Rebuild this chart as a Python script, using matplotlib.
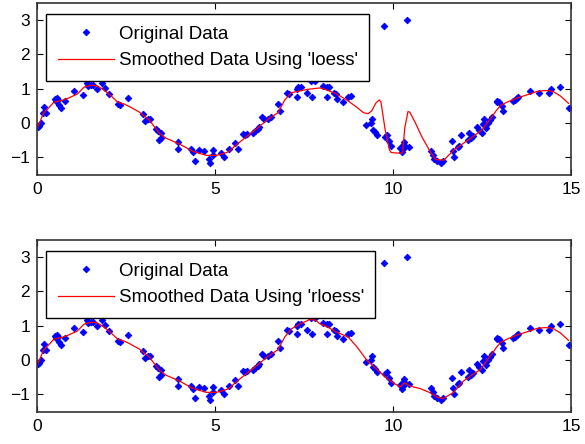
import matplotlib
matplotlib.use("Agg")
import matplotlib.pyplot as plt
import numpy as np

# ---- data ----
x_data = [0.03, 0.06, 0.12, 0.20, 0.18, 0.25, 0.50, 0.57, 0.53, 0.59, 0.63, 0.67, 0.80,
          1.04, 1.30, 1.40, 1.43, 1.51, 1.58, 1.68, 1.83, 1.90, 2.01, 2.28, 2.33, 2.56,
          2.97, 3.03, 3.12, 3.17, 3.34, 3.40, 3.47, 3.44, 3.47, 3.96, 3.96, 4.32, 4.37,
          4.43, 4.56, 4.69, 4.84, 4.86, 4.93, 4.95, 5.16, 5.25, 5.40, 5.55, 5.65, 5.78,
          5.83, 5.89, 6.06, 6.13, 6.21, 6.24, 6.32, 6.38, 6.49, 6.56, 6.77, 6.83, 7.03,
          7.09, 7.29, 7.33, 7.41, 7.31, 7.59, 7.70, 7.81, 7.73, 8.04, 8.14, 8.19, 8.15,
          8.34, 8.40, 8.42, 8.59, 8.74, 8.81, 9.24, 9.41, 9.37, 9.45, 9.50, 9.54, 9.78,
          9.88, 9.84, 9.94, 10.20, 10.25, 10.29, 10.31, 10.35, 10.44, 10.27, 9.75, 10.40,
          11.08, 11.11, 11.15, 11.23, 11.34, 11.40, 11.66, 11.69, 11.71, 11.83, 11.86,
          11.92, 12.11, 12.14, 12.18, 12.26, 12.37, 12.41, 12.50, 12.52, 12.56, 12.61,
          12.67, 12.72, 12.78, 12.91, 12.93, 12.97, 13.06, 13.08, 13.36, 13.44, 13.49,
          13.51, 13.85, 14.11, 14.39, 14.43, 14.69, 14.93]
y_data = [-0.12, -0.09, 0.00, 0.47, 0.30, 0.30, 0.69, 0.73, 0.65, 0.67, 0.53, 0.44, 0.65,
          0.94, 0.80, 1.15, 1.08, 1.11, 1.10, 1.00, 1.17, 1.02, 0.84, 0.55, 0.51, 0.73,
          0.26, 0.07, 0.11, 0.13, -0.17, -0.24, -0.30, -0.49, -0.44, -0.55, -0.77, -0.75, -0.84,
          -1.11, -0.78, -0.82, -1.06, -1.17, -0.78, -0.94, -0.86, -1.00, -0.75, -0.59, -0.77, -0.32,
          -0.36, -0.32, -0.28, -0.22, -0.17, -0.11, 0.18, 0.11, 0.13, 0.18, 0.55, 0.34, 0.88,
          0.84, 1.00, 1.06, 1.06, 0.75, 0.88, 1.23, 1.23, 0.77, 1.08, 1.06, 1.04, 0.77,
          0.88, 0.84, 0.69, 0.61, 0.77, 0.78, -0.07, 0.13, -0.01, -0.20, -0.26, -0.34, -0.42,
          -0.53, -0.36, -0.67, -0.73, -0.84, -0.65, -0.55, -0.67, -0.69, -0.75, 2.83, 3.00,
          -0.82, -0.94, -1.06, -1.10, -1.15, -1.11, -0.53, -0.82, -1.00, -0.71, -0.67,
          -0.34, -0.49, -0.28, -0.44, -0.38, -0.11, -0.20, -0.28, -0.03, 0.11, -0.15,
          -0.01, 0.09, 0.18, 0.61, 0.63, 0.61, 0.49, 0.36, 0.63, 0.67, 0.73,
          0.77, 0.94, 0.88, 0.86, 1.00, 1.04, 0.44]

loess_x = [0.03, 0.18, 0.29, 0.48, 0.67, 0.85, 1.13, 1.32, 1.51, 1.69, 1.88, 2.07, 2.26,
           2.45, 2.61, 2.87, 3.15, 3.44, 3.62, 4.00, 4.37, 4.75, 5.03, 5.20, 5.37, 5.65,
           5.93, 6.21, 6.49, 6.77, 6.96, 7.14, 7.42, 7.61, 7.78, 7.95, 8.14, 8.42, 8.70,
           8.98, 9.17, 9.30, 9.40, 9.52, 9.61, 9.66, 9.78, 9.90, 9.95, 10.22, 10.27, 10.33,
           10.42, 10.47, 10.63, 10.81, 11.00, 11.19, 11.43, 11.56, 11.75, 12.12, 12.50,
           12.78, 12.90, 13.02, 13.21, 13.49, 13.77, 14.05, 14.24, 14.39, 14.52, 14.71, 14.93]
loess_y = [-0.10, 0.28, 0.40, 0.61, 0.65, 0.71, 0.84, 1.04, 1.10, 1.08, 0.96, 0.80, 0.61,
           0.55, 0.47, 0.32, 0.09, -0.30, -0.44, -0.61, -0.82, -0.94, -0.94, -0.90, -0.84, -0.59,
           -0.36, -0.13, 0.11, 0.30, 0.67, 0.88, 0.94, 0.98, 1.00, 1.02, 0.96, 0.84, 0.67,
           0.46, 0.30, 0.27, 0.35, 0.58, 0.67, 0.62, -0.20, -0.78, -0.86, -0.88, -0.86, -0.15,
           0.33, 0.32, 0.00, -0.40, -0.75, -1.06, -1.08, -0.94, -0.75, -0.49, -0.20,
           0.18, 0.36, 0.51, 0.61, 0.73, 0.82, 0.92, 0.94, 0.94, 0.90, 0.78, 0.57]

rloess_x = [0.03, 0.18, 0.29, 0.48, 0.67, 0.85, 1.13, 1.32, 1.51, 1.69, 1.88, 2.07, 2.26,
            2.45, 2.61, 2.87, 3.15, 3.44, 3.62, 4.00, 4.37, 4.75, 5.03, 5.20, 5.37, 5.65,
            5.93, 6.21, 6.49, 6.77, 6.96, 7.14, 7.39, 7.67, 7.82, 7.95, 8.14, 8.42, 8.75,
            8.98, 9.26, 9.54, 9.82, 10.00, 10.20, 10.33, 10.48, 10.76, 11.04, 11.23, 11.41,
            11.69, 11.97, 12.25, 12.44, 12.78, 12.90, 13.02, 13.21, 13.49, 13.77, 14.05,
            14.24, 14.39, 14.52, 14.71, 14.93]
rloess_y = [-0.10, 0.28, 0.40, 0.61, 0.65, 0.71, 0.84, 1.04, 1.10, 1.08, 0.96, 0.80, 0.61,
            0.55, 0.47, 0.32, 0.09, -0.30, -0.44, -0.61, -0.82, -0.94, -0.94, -0.90, -0.84, -0.59,
            -0.36, -0.13, 0.11, 0.30, 0.67, 0.90, 1.05, 1.18, 1.16, 1.05, 0.97, 0.81, 0.66,
            0.39, 0.00, -0.27, -0.52, -0.66, -0.78, -0.66, -0.76, -0.83, -0.95, -1.08, -1.12,
            -0.95, -0.62, -0.41, -0.29, 0.18, 0.36, 0.51, 0.61, 0.73, 0.82, 0.92,
            0.94, 0.94, 0.90, 0.78, 0.57]

method_labels = ["Smoothed Data Using 'loess'", "Smoothed Data Using 'rloess'"]
x_ticks = [0, 5, 10, 15]
y_ticks = [-1, 0, 1, 2, 3]

plt.rcParams['font.family'] = ['Liberation Sans', 'DejaVu Sans']

W, H = 585, 444
fig = plt.figure(figsize=(W / 100, H / 100), dpi=100)

ax_px = [(37, 2.6, 534, 172), (37, 239.6, 534, 172)]
curves = [(loess_x, loess_y), (rloess_x, rloess_y)]

for (l, t, w, h), (cx, cy), lab in zip(ax_px, curves, method_labels):
    ax = fig.add_axes([l / W, 1 - (t + h) / H, w / W, h / H])
    ax.plot(x_data, y_data, linestyle='none', marker='D', markersize=3.4,
            color=(0, 0, 1), markeredgewidth=0.6, label='Original Data')
    ax.plot(cx, cy, color=(1, 0, 0), linewidth=0.9, label=lab)
    ax.set_xlim(0, 15)
    ax.set_ylim(-1.5, 3.5)
    ax.set_xticks(x_ticks)
    ax.set_yticks(y_ticks)
    ax.tick_params(direction='in', top=True, right=True, length=4, width=0.8,
                   labelsize=12.5, colors='black', pad=5)
    for s in ax.spines.values():
        s.set_linewidth(1.2)
        s.set_color('#333333')
    leg = ax.legend(loc='upper left', bbox_to_anchor=(9 / w, 1 - 11.4 / h),
                    borderaxespad=0, fontsize=13.5, frameon=True, fancybox=False,
                    framealpha=1, edgecolor='black', handlelength=3.0,
                    handletextpad=0.25, borderpad=0.62, labelspacing=0.5,
                    numpoints=1)
    leg.get_frame().set_linewidth(1.0)

fig.savefig('out.png', dpi=100)
